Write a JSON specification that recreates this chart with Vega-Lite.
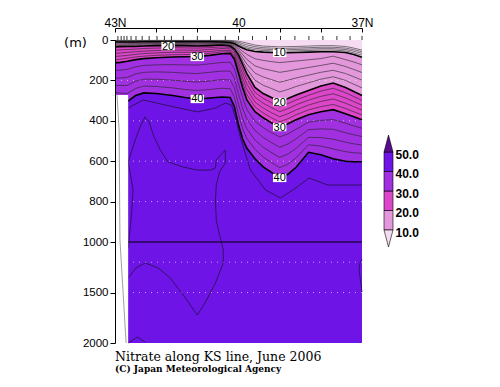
{
  "$schema": "https://vega.github.io/schema/vega-lite/v6.json",
  "autosize": {"type": "none"},
  "width": 247,
  "height": 303,
  "padding": {"left": 115, "top": 40, "right": 138, "bottom": 44},
  "background": "white",
  "config": {
    "view": {"stroke": null},
    "font": "Liberation Sans",
    "axis": {"labelFont": "Liberation Sans", "labelColor": "black", "domainColor": "black", "tickColor": "black", "grid": false}
  },
  "title": {
    "text": "Nitrate along KS line, June 2006",
    "subtitle": "(C) Japan Meteorological Agency",
    "orient": "bottom",
    "anchor": "start",
    "frame": "group",
    "font": "DejaVu Serif",
    "fontSize": 12.5,
    "fontWeight": "normal",
    "color": "black",
    "subtitleFont": "DejaVu Serif",
    "subtitleFontSize": 9,
    "subtitleFontWeight": "bold",
    "subtitleColor": "black",
    "subtitlePadding": 2,
    "offset": 2
  },
  "datasets": {
    "grid": [
      {"lat":43,"a2":2,"a4":4,"a6":6,"a8":8,"c10":10,"b12":15,"b14":20,"b16":25,"b18":30,"c20":35,"b22":50,"b24":66,"b26":81,"b28":97,"c30":112,"b32":150,"b34":188,"b36":225,"b38":262,"c40":300},
      {"lat":42.9,"a2":2,"a4":4,"a6":6,"a8":8,"c10":10,"b12":14,"b14":19,"b16":24,"b18":28,"c20":33,"b22":49,"b24":65,"b26":80,"b28":96,"c30":112,"b32":150,"b34":188,"b36":225,"b38":262,"c40":300},
      {"lat":42.7,"a2":2,"a4":4,"a6":6,"a8":8,"c10":10,"b12":14,"b14":18,"b16":23,"b18":27,"c20":32,"b22":47,"b24":61,"b26":76,"b28":90,"c30":105,"b32":145,"b34":185,"b36":225,"b38":265,"c40":305},
      {"lat":42.5,"a2":2,"a4":4,"a6":6,"a8":8,"c10":10,"b12":14,"b14":18,"b16":23,"b18":27,"c20":32,"b22":45,"b24":58,"b26":71,"b28":84,"c30":97,"b32":133,"b34":168,"b36":204,"b38":240,"c40":275},
      {"lat":42.3,"a2":2,"a4":4,"a6":5,"a8":7,"c10":9,"b12":13,"b14":17,"b16":21,"b18":26,"c20":30,"b22":42,"b24":55,"b26":67,"b28":80,"c30":92,"b32":126,"b34":160,"b36":194,"b38":228,"c40":262},
      {"lat":42.0,"a2":2,"a4":4,"a6":5,"a8":7,"c10":9,"b12":13,"b14":17,"b16":20,"b18":24,"c20":28,"b22":40,"b24":52,"b26":64,"b28":76,"c30":88,"b32":123,"b34":158,"b36":194,"b38":230,"c40":265},
      {"lat":41.6,"a2":2,"a4":4,"a6":5,"a8":7,"c10":9,"b12":13,"b14":16,"b16":20,"b18":23,"c20":27,"b22":38,"b24":50,"b26":61,"b28":73,"c30":84,"b32":122,"b34":160,"b36":199,"b38":237,"c40":275},
      {"lat":41.3,"a2":2,"a4":4,"a6":5,"a8":7,"c10":9,"b12":13,"b14":17,"b16":20,"b18":24,"c20":28,"b22":39,"b24":50,"b26":61,"b28":72,"c30":83,"b32":123,"b34":164,"b36":204,"b38":245,"c40":285},
      {"lat":41.0,"a2":2,"a4":4,"a6":5,"a8":7,"c10":9,"b12":13,"b14":17,"b16":22,"b18":26,"c20":30,"b22":40,"b24":51,"b26":61,"b28":72,"c30":82,"b32":124,"b34":166,"b36":208,"b38":250,"c40":292},
      {"lat":40.7,"a2":2,"a4":4,"a6":5,"a8":7,"c10":9,"b12":13,"b14":17,"b16":20,"b18":24,"c20":28,"b22":38,"b24":47,"b26":57,"b28":66,"c30":76,"b32":118,"b34":160,"b36":203,"b38":245,"c40":287},
      {"lat":40.4,"a2":2,"a4":4,"a6":6,"a8":8,"c10":10,"b12":13,"b14":16,"b16":19,"b18":22,"c20":25,"b22":34,"b24":42,"b26":51,"b28":59,"c30":68,"b32":111,"b34":154,"b36":196,"b38":239,"c40":282},
      {"lat":40.2,"a2":2,"a4":5,"a6":7,"a8":10,"c10":12,"b12":16,"b14":19,"b16":23,"b18":26,"c20":30,"b22":37,"b24":44,"b26":52,"b28":59,"c30":66,"b32":110,"b34":154,"b36":198,"b38":241,"c40":285},
      {"lat":40.1,"a2":4,"a4":8,"a6":11,"a8":14,"c10":18,"b12":23,"b14":29,"b16":34,"b18":40,"c20":45,"b22":55,"b24":65,"b26":75,"b28":85,"c30":95,"b32":142,"b34":189,"b36":236,"b38":283,"c40":330},
      {"lat":40.0,"a2":6,"a4":12,"a6":18,"a8":24,"c10":30,"b12":39,"b14":48,"b16":57,"b18":66,"c20":75,"b22":93,"b24":111,"b26":129,"b28":147,"c30":165,"b32":216,"b34":267,"b36":318,"b38":369,"c40":420},
      {"lat":39.9,"a2":10,"a4":18,"a6":26,"a8":33,"c10":40,"b12":56,"b14":72,"b16":88,"b18":104,"c20":120,"b22":143,"b24":166,"b26":189,"b28":212,"c30":235,"b32":286,"b34":337,"b36":388,"b38":439,"c40":490},
      {"lat":39.8,"a2":15,"a4":24,"a6":33,"a8":40,"c10":48,"b12":71,"b14":95,"b16":118,"b18":142,"c20":165,"b22":191,"b24":217,"b26":243,"b28":269,"c30":295,"b32":343,"b34":391,"b36":439,"b38":487,"c40":535},
      {"lat":39.6,"a2":25,"a4":33,"a6":41,"a8":49,"c10":57,"b12":93,"b14":128,"b16":164,"b18":199,"c20":235,"b22":259,"b24":283,"b26":307,"b28":331,"c30":355,"b32":402,"b34":448,"b36":495,"b38":541,"c40":588},
      {"lat":39.4,"a2":30,"a4":38,"a6":45,"a8":52,"c10":60,"b12":101,"b14":142,"b16":183,"b18":224,"c20":265,"b22":289,"b24":313,"b26":337,"b28":361,"c30":385,"b32":434,"b34":482,"b36":531,"b38":579,"c40":628},
      {"lat":39.2,"a2":32,"a4":40,"a6":47,"a8":54,"c10":62,"b12":107,"b14":151,"b16":196,"b18":240,"c20":285,"b22":310,"b24":335,"b26":360,"b28":385,"c30":410,"b32":459,"b34":508,"b36":557,"b38":606,"c40":655},
      {"lat":39.0,"a2":34,"a4":42,"a6":49,"a8":56,"c10":64,"b12":112,"b14":160,"b16":209,"b18":257,"c20":305,"b22":330,"b24":355,"b26":380,"b28":405,"c30":430,"b32":480,"b34":531,"b36":581,"b38":632,"c40":682},
      {"lat":38.8,"a2":33,"a4":41,"a6":48,"a8":55,"c10":63,"b12":108,"b14":154,"b16":199,"b18":245,"c20":290,"b22":315,"b24":340,"b26":365,"b28":390,"c30":415,"b32":465,"b34":515,"b36":565,"b38":615,"c40":665},
      {"lat":38.6,"a2":32,"a4":40,"a6":47,"a8":54,"c10":62,"b12":104,"b14":146,"b16":188,"b18":230,"c20":272,"b22":297,"b24":321,"b26":346,"b28":370,"c30":395,"b32":442,"b34":489,"b36":536,"b38":583,"c40":630},
      {"lat":38.3,"a2":30,"a4":38,"a6":45,"a8":52,"c10":60,"b12":98,"b14":136,"b16":174,"b18":212,"c20":250,"b22":274,"b24":298,"b26":322,"b28":346,"c30":370,"b32":407,"b34":444,"b36":482,"b38":519,"c40":556},
      {"lat":38.0,"a2":28,"a4":36,"a6":43,"a8":50,"c10":58,"b12":92,"b14":126,"b16":160,"b18":194,"c20":228,"b22":253,"b24":279,"b26":304,"b28":330,"c30":355,"b32":398,"b34":440,"b36":483,"b38":525,"c40":568},
      {"lat":37.7,"a2":28,"a4":36,"a6":43,"a8":50,"c10":58,"b12":80,"b14":115,"b16":150,"b18":182,"c20":213,"b22":239,"b24":266,"b26":292,"b28":319,"c30":345,"b32":394,"b34":442,"b36":491,"b38":539,"c40":588},
      {"lat":37.4,"a2":32,"a4":40,"a6":47,"a8":54,"c10":62,"b12":97,"b14":131,"b16":166,"b18":200,"c20":235,"b22":261,"b24":287,"b26":313,"b28":339,"c30":365,"b32":412,"b34":459,"b36":506,"b38":553,"c40":600},
      {"lat":37.2,"a2":40,"a4":48,"a6":56,"a8":64,"c10":72,"b12":109,"b14":146,"b16":182,"b18":219,"c20":255,"b22":280,"b24":305,"b26":330,"b28":355,"c30":380,"b32":425,"b34":469,"b36":514,"b38":558,"c40":603},
      {"lat":37.0,"a2":50,"a4":58,"a6":66,"a8":75,"c10":85,"b12":123,"b14":161,"b16":199,"b18":237,"c20":275,"b22":299,"b24":323,"b26":347,"b28":371,"c30":395,"b32":437,"b34":478,"b36":520,"b38":561,"c40":603}
    ],
    "deep": [
      {"id":"A","i":0,"lat":42.68,"d":604},{"id":"A","i":1,"lat":42.51,"d":495},{"id":"A","i":2,"lat":42.37,"d":421},{"id":"A","i":3,"lat":42.27,"d":381},{"id":"A","i":4,"lat":42.17,"d":406},{"id":"A","i":5,"lat":42.07,"d":470},{"id":"A","i":6,"lat":41.9,"d":545},{"id":"A","i":7,"lat":41.71,"d":604},{"id":"A","i":8,"lat":41.34,"d":629},{"id":"A","i":9,"lat":41.0,"d":644},{"id":"A","i":10,"lat":40.68,"d":644},{"id":"A","i":11,"lat":40.56,"d":634},{"id":"A","i":12,"lat":40.54,"d":594},{"id":"A","i":13,"lat":40.39,"d":559},{"id":"A","i":14,"lat":40.32,"d":545},{"id":"A","i":15,"lat":40.32,"d":609},{"id":"A","i":16,"lat":40.46,"d":653},{"id":"A","i":17,"lat":40.54,"d":718},{"id":"A","i":18,"lat":40.56,"d":792},{"id":"A","i":19,"lat":40.54,"d":891},{"id":"A","i":20,"lat":40.46,"d":965},{"id":"A","i":21,"lat":40.37,"d":1079},{"id":"A","i":22,"lat":40.37,"d":1208},{"id":"A","i":23,"lat":40.56,"d":1406},{"id":"A","i":24,"lat":40.8,"d":1594},{"id":"A","i":25,"lat":41.0,"d":1723},{"id":"A","i":26,"lat":41.29,"d":1554},{"id":"A","i":27,"lat":41.66,"d":1356},{"id":"A","i":28,"lat":41.95,"d":1257},{"id":"A","i":29,"lat":42.27,"d":1208},{"id":"A","i":30,"lat":42.49,"d":1257},{"id":"A","i":31,"lat":42.68,"d":1356},
      {"id":"A2","i":0,"lat":42.68,"d":604},{"id":"A2","i":1,"lat":42.56,"d":743},{"id":"A2","i":2,"lat":42.61,"d":891},{"id":"A2","i":3,"lat":42.68,"d":1059},
      {"id":"B","i":0,"lat":42.68,"d":337},{"id":"B","i":1,"lat":42.32,"d":297},{"id":"B","i":2,"lat":41.66,"d":327},{"id":"B","i":3,"lat":41.0,"d":356},{"id":"B","i":4,"lat":40.56,"d":337},{"id":"B","i":5,"lat":40.32,"d":312},{"id":"B","i":6,"lat":40.17,"d":322},{"id":"B","i":7,"lat":40.07,"d":386},{"id":"B","i":8,"lat":39.95,"d":485},{"id":"B","i":9,"lat":39.71,"d":644},{"id":"B","i":10,"lat":39.34,"d":743},{"id":"B","i":11,"lat":38.98,"d":782},{"id":"B","i":12,"lat":38.61,"d":733},{"id":"B","i":13,"lat":38.29,"d":683},{"id":"B","i":14,"lat":37.83,"d":718},{"id":"B","i":15,"lat":37.39,"d":718},{"id":"B","i":16,"lat":37.0,"d":718},
      {"id":"C","i":0,"lat":37.0,"d":1168},{"id":"C","i":1,"lat":37.05,"d":1208},{"id":"C","i":2,"lat":37.07,"d":1277},{"id":"C","i":3,"lat":37.0,"d":1495},
      {"id":"D","i":0,"lat":42.68,"d":2000},{"id":"D","i":1,"lat":42.46,"d":1941},{"id":"D","i":2,"lat":42.27,"d":1990}
    ],
    "edge": [
      {"i":0,"lat":42.95,"d":272},{"i":1,"lat":42.9,"d":446},{"i":2,"lat":42.88,"d":990},{"i":3,"lat":42.73,"d":2000}
    ],
    "nodata": [{"la":43,"lb":42.68,"da":272,"db":2000}],
    "gridlines": [{"d":200},{"d":400},{"d":600},{"d":800},{"d":1200},{"d":1500}],
    "stations": [{"lat":42.93},{"lat":42.85},{"lat":42.78},{"lat":42.71},{"lat":42.61},{"lat":42.49},{"lat":42.34},{"lat":42.17},{"lat":41.98},{"lat":41.8},{"lat":41.63},{"lat":41.34},{"lat":41.0},{"lat":40.68},{"lat":40.32},{"lat":40.0},{"lat":39.66},{"lat":39.32},{"lat":38.98},{"lat":38.63},{"lat":38.29},{"lat":37.95},{"lat":37.61},{"lat":37.29},{"lat":37.0}],
    "labels": [
      {"lat":41.71,"d":30,"t":"20"},{"lat":41.0,"d":84,"t":"30"},{"lat":41.0,"d":292,"t":"40"},
      {"lat":39.0,"d":64,"t":"10"},{"lat":39.0,"d":307,"t":"20"},{"lat":39.0,"d":431,"t":"30"},{"lat":39.0,"d":683,"t":"40"}
    ],
    "legendBlocks": [
      {"lo":10,"hi":20,"k":"10-20"},{"lo":20,"hi":30,"k":"20-30"},{"lo":30,"hi":40,"k":"30-40"},{"lo":40,"hi":50,"k":"40-50"}
    ],
    "triTop": [{"b":0,"v":50},{"b":0.5,"v":58.7},{"b":1,"v":50}],
    "triBot": [{"b":0,"v":10},{"b":0.5,"v":1.3},{"b":1,"v":10}]
  },
  "layer": [
    {
      "layer": [
        {
          "data": {"name": "grid"},
          "mark": {"type": "area", "color": "#6e14e6"},
          "encoding": {
            "x": {"field": "lat", "type": "quantitative", "scale": {"domain": [43, 37], "nice": false, "zero": false},
                  "axis": {"orient": "top", "offset": 12, "values": [43,42,41,40,39,38,37], "labelExpr": "datum.value==43 ? '43N' : datum.value==40 ? '40' : datum.value==37 ? '37N' : ''", "tickSize": -4, "labelPadding": 3, "labelFontSize": 12, "title": null, "labelFlush": false, "labelOverlap": false, "zindex": 1}},
            "y": {"datum": 2000, "type": "quantitative", "scale": {"domain": [0, 1000, 2000], "range": [0, 202, 303], "nice": false, "zero": false},
                  "axis": {"orient": "left", "values": [0,200,400,600,800,1000,1500,2000], "format": "d", "tickSize": 5, "labelPadding": 2, "labelFontSize": 11.5, "zindex": 1, "title": "(m)", "titleAngle": 0, "titleX": -40, "titleY": 2, "titleAlign": "center", "titleBaseline": "middle", "titleFont": "DejaVu Sans", "titleFontSize": 13, "titleFontWeight": "normal", "titleColor": "black"}},
            "y2": {"datum": 0}
          }
        },
        {"data": {"name": "grid"}, "mark": {"type": "area", "color": "#a030e0"},
         "encoding": {"x": {"field": "lat", "type": "quantitative"}, "y": {"field": "c40", "type": "quantitative"}, "y2": {"datum": 0}}},
        {"data": {"name": "grid"}, "mark": {"type": "area", "color": "#dc46c8"},
         "encoding": {"x": {"field": "lat", "type": "quantitative"}, "y": {"field": "c30", "type": "quantitative"}, "y2": {"datum": 0}}},
        {"data": {"name": "grid"}, "mark": {"type": "area", "color": "#e398dc"},
         "encoding": {"x": {"field": "lat", "type": "quantitative"}, "y": {"field": "c20", "type": "quantitative"}, "y2": {"datum": 0}}},
        {"data": {"name": "grid"}, "mark": {"type": "area", "color": "#f6dcf2"},
         "encoding": {"x": {"field": "lat", "type": "quantitative"}, "y": {"field": "c10", "type": "quantitative"}, "y2": {"datum": 0}}},
        {"data": {"name": "gridlines"}, "mark": {"type": "rule", "color": "white", "strokeWidth": 1, "strokeDash": [1, 5], "opacity": 0.6},
         "encoding": {"y": {"field": "d", "type": "quantitative"}}},
        {"data": {"values": [{"d": 1000}]}, "mark": {"type": "rule", "color": "black", "strokeWidth": 1.2},
         "encoding": {"y": {"field": "d", "type": "quantitative"}}},
        {"data": {"name": "grid"},
         "transform": [{"fold": ["a2","a4","a6","a8","b12","b14","b16","b18","b22","b24","b26","b28","b32","b34","b36","b38"], "as": ["lev", "dep"]}],
         "mark": {"type": "line", "color": "#222222", "strokeWidth": 0.6},
         "encoding": {"x": {"field": "lat", "type": "quantitative"}, "y": {"field": "dep", "type": "quantitative"}, "detail": {"field": "lev"}}},
        {"data": {"name": "grid"},
         "transform": [{"fold": ["c10","c20","c30","c40"], "as": ["lev", "dep"]}],
         "mark": {"type": "line", "color": "black", "strokeWidth": 1.6},
         "encoding": {"x": {"field": "lat", "type": "quantitative"}, "y": {"field": "dep", "type": "quantitative"}, "detail": {"field": "lev"}}},
        {"data": {"name": "deep"}, "mark": {"type": "line", "color": "#1a1030", "strokeWidth": 0.7},
         "encoding": {"x": {"field": "lat", "type": "quantitative"}, "y": {"field": "d", "type": "quantitative"}, "detail": {"field": "id"}, "order": {"field": "i"}}},
        {"data": {"name": "nodata"}, "mark": {"type": "rect", "color": "white"},
         "encoding": {"x": {"field": "la", "type": "quantitative"}, "x2": {"field": "lb"}, "y": {"field": "da", "type": "quantitative"}, "y2": {"field": "db"}}},
        {"data": {"name": "edge"}, "mark": {"type": "line", "color": "#888888", "strokeWidth": 0.8},
         "encoding": {"x": {"field": "lat", "type": "quantitative"}, "y": {"field": "d", "type": "quantitative"}, "order": {"field": "i"}}},
        {"data": {"name": "stations"}, "mark": {"type": "rule", "color": "black", "strokeWidth": 0.8},
         "encoding": {"x": {"field": "lat", "type": "quantitative"}, "y": {"datum": -20}, "y2": {"datum": 0}}},
        {"data": {"name": "labels"}, "mark": {"type": "point", "shape": "M-1,-0.62H1V0.62H-1Z", "filled": true, "color": "white", "opacity": 1, "size": 180},
         "encoding": {"x": {"field": "lat", "type": "quantitative"}, "y": {"field": "d", "type": "quantitative"}}},
        {"data": {"name": "labels"}, "mark": {"type": "text", "font": "Liberation Sans", "fontSize": 11, "color": "black", "baseline": "middle", "align": "center", "dy": 0.5},
         "encoding": {"x": {"field": "lat", "type": "quantitative"}, "y": {"field": "d", "type": "quantitative"}, "text": {"field": "t"}}}
      ]
    },
    {
      "layer": [
        {"data": {"name": "legendBlocks"}, "mark": {"type": "rect", "stroke": "black", "strokeWidth": 0.6},
         "encoding": {
           "x": {"datum": 0, "type": "quantitative", "scale": {"domain": [0, 1], "range": [269, 278]}, "axis": null},
           "x2": {"datum": 1},
           "y": {"field": "lo", "type": "quantitative", "scale": {"domain": [10, 50], "range": [190, 112], "nice": false, "zero": false},
                 "axis": {"orient": "right", "offset": 31, "values": [10,20,30,40,50], "format": ".1f", "domain": false, "ticks": false, "labelPadding": 2, "grid": false, "title": null, "labelFontWeight": "bold", "labelFontSize": 12, "labelBaseline": "top", "labelOffset": -3}},
           "y2": {"field": "hi"},
           "fill": {"field": "k", "type": "nominal", "scale": {"domain": ["10-20","20-30","30-40","40-50"], "range": ["#e398dc","#dc46c8","#a030e0","#6e14e6"]}, "legend": null}
         }},
        {"data": {"name": "triTop"}, "mark": {"type": "area", "color": "#5a0a8c", "stroke": "black", "strokeWidth": 0.6},
         "encoding": {"x": {"field": "b", "type": "quantitative"}, "y": {"field": "v", "type": "quantitative"}, "y2": {"datum": 50}}},
        {"data": {"name": "triBot"}, "mark": {"type": "area", "color": "#f6dcf2", "stroke": "black", "strokeWidth": 0.6},
         "encoding": {"x": {"field": "b", "type": "quantitative"}, "y": {"field": "v", "type": "quantitative"}, "y2": {"datum": 10}}}
      ]
    }
  ],
  "resolve": {"scale": {"x": "independent", "y": "independent"}, "axis": {"x": "independent", "y": "independent"}}
}
